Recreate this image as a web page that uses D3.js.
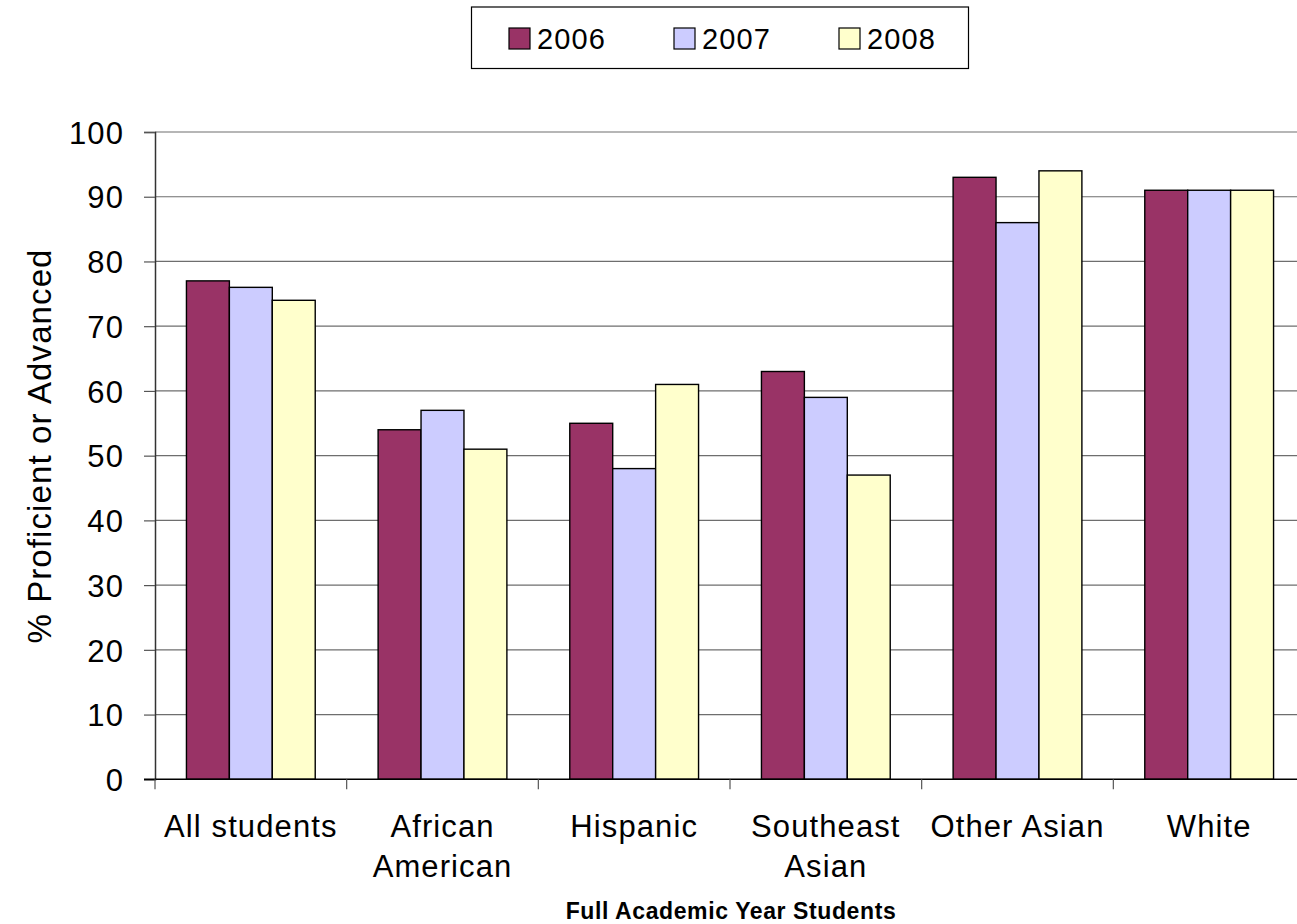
<!DOCTYPE html>
<html>
<head>
<meta charset="utf-8">
<script src="https://cdn.jsdelivr.net/npm/d3@7"></script>
<style>
  html, body { margin: 0; padding: 0; background: #fff; }
  svg { display: block; font-family: "Liberation Sans", Arial, sans-serif; }
</style>
</head>
<body>
<div id="chart"></div>
<script>
// data
const categories = ["All students", "African\nAmerican", "Hispanic", "Southeast\nAsian", "Other Asian", "White"]
const years = ["2006", "2007", "2008"]
const values2006 = [77, 54, 55, 63, 93, 91]
const values2007 = [76, 57, 48, 59, 86, 91]
const values2008 = [74, 51, 61, 47, 94, 91]
const yTicks = [0, 10, 20, 30, 40, 50, 60, 70, 80, 90, 100]
const colors = ["#993366", "#ccccff", "#ffffcc"]

const width = 1297
const height = 924
const marginTop = 132
const marginLeft = 155
const plotBottom = 779.3
const plotRight = 1305      // the plot runs a little past the right edge

const series = [values2006, values2007, values2008]
const rows = categories.map((c, i) => ({cat: c, vals: years.map((y, j) => ({year: y, v: series[j][i]}))}))

const svg = d3.select("#chart").append("svg")
    .attr("width", width)
    .attr("height", height)
    .attr("viewBox", [0, 0, width, height])

const x0 = d3.scaleBand(categories, [marginLeft, plotRight])
    .paddingInner(63 / 192)
    .paddingOuter(63 / 384)
const x1 = d3.scaleBand(years, [0, x0.bandwidth()])
const y = d3.scaleLinear([0, 100], [plotBottom, marginTop])
const color = d3.scaleOrdinal(years, colors)

// gridlines
svg.append("g")
    .selectAll("line")
    .data(yTicks.filter(d => d > 0))
    .join("line")
    .attr("x1", marginLeft)
    .attr("x2", plotRight)
    .attr("y1", d => y(d))
    .attr("y2", d => y(d))
    .attr("stroke", "#6e6e6e")
    .attr("stroke-width", 1.2)

// y axis
const yAxis = d3.axisLeft(y).tickValues(yTicks).tickSize(11).tickPadding(20)
svg.append("g")
    .attr("transform", `translate(${marginLeft},0)`)
    .call(yAxis)
    .call(g => g.select(".domain").attr("stroke", "#333").attr("stroke-width", 1.5))
    .call(g => g.selectAll(".tick line").attr("stroke", "#555").attr("stroke-width", 1.2))
    .call(g => g.selectAll(".tick text")
        .attr("font-size", 31)
        .attr("font-family", "Liberation Sans, Arial, sans-serif")
        .attr("letter-spacing", 1.1)
        .attr("fill", "#000")
        .attr("dy", "0.36em"))

// bars
svg.append("g")
    .selectAll("g")
    .data(rows)
    .join("g")
    .attr("transform", d => `translate(${x0(d.cat)},0)`)
    .selectAll("rect")
    .data(d => d.vals)
    .join("rect")
    .attr("x", d => x1(d.year))
    .attr("width", x1.bandwidth())
    .attr("y", d => y(d.v))
    .attr("height", d => y(0) - y(d.v))
    .attr("fill", d => color(d.year))
    .attr("stroke", "#000")
    .attr("stroke-width", 1.4)

// x axis line and group separators
svg.append("line")
    .attr("x1", marginLeft - 11)
    .attr("x2", plotRight)
    .attr("y1", plotBottom)
    .attr("y2", plotBottom)
    .attr("stroke", "#000")
    .attr("stroke-width", 1.5)

const step = x0.step()
svg.append("g")
    .selectAll("line")
    .data(d3.range(categories.length + 1))
    .join("line")
    .attr("x1", i => marginLeft + i * step)
    .attr("x2", i => marginLeft + i * step)
    .attr("y1", plotBottom)
    .attr("y2", plotBottom + 10)
    .attr("stroke", "#555")
    .attr("stroke-width", 1.2)

// category labels
svg.append("g")
    .selectAll("text")
    .data(categories)
    .join("text")
    .attr("x", d => x0(d) + x0.bandwidth() / 2)
    .attr("y", 837)
    .attr("text-anchor", "middle")
    .attr("font-size", 31)
    .attr("letter-spacing", 1.1)
    .attr("fill", "#000")
    .selectAll("tspan")
    .data(d => d.split("\n"))
    .join("tspan")
    .attr("x", function () { return d3.select(this.parentNode).attr("x") })
    .attr("dy", (d, i) => i === 0 ? 0 : 40)
    .text(d => d)

// axis titles
svg.append("text")
    .attr("x", 731)
    .attr("y", 919)
    .attr("text-anchor", "middle")
    .attr("font-size", 23)
    .attr("font-weight", "bold")
    .attr("letter-spacing", 0.6)
    .text("Full Academic Year Students")

svg.append("text")
    .attr("transform", "translate(51,446) rotate(-90)")
    .attr("text-anchor", "middle")
    .attr("font-size", 33)
    .attr("letter-spacing", 1.1)
    .text("% Proficient or Advanced")

// legend
const legend = svg.append("g")
legend.append("rect")
    .attr("x", 471.5)
    .attr("y", 7)
    .attr("width", 497)
    .attr("height", 61.5)
    .attr("fill", "#fff")
    .attr("stroke", "#000")
    .attr("stroke-width", 1.2)

const legendX = d3.scalePoint(years, [509, 839])
const item = legend.selectAll("g.item")
    .data(years)
    .join("g")
    .attr("class", "item")
    .attr("transform", d => `translate(${legendX(d)},28)`)
item.append("rect")
    .attr("width", 21)
    .attr("height", 21)
    .attr("fill", d => color(d))
    .attr("stroke", "#000")
    .attr("stroke-width", 1.2)
item.append("text")
    .attr("x", 28)
    .attr("y", 21)
    .attr("font-size", 29)
    .attr("letter-spacing", 1.1)
    .text(d => d)
</script>
</body>
</html>
